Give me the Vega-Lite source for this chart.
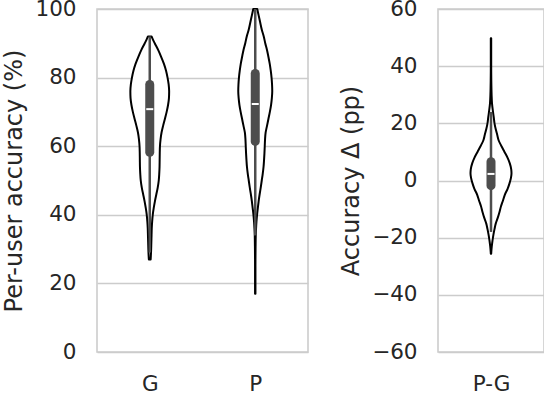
{
  "$schema": "https://vega.github.io/schema/vega-lite/v6.json",
  "background": "white",
  "padding": {"left": 2, "top": -3, "right": 0, "bottom": 0},
  "bounds": "flush",
  "spacing": 130,
  "datasets": {
    "violin": [
      {"group": "G", "value": 92, "density": 0.09},
      {"group": "G", "value": 91, "density": 0.165},
      {"group": "G", "value": 90, "density": 0.25},
      {"group": "G", "value": 88, "density": 0.425},
      {"group": "G", "value": 86, "density": 0.575},
      {"group": "G", "value": 84, "density": 0.71},
      {"group": "G", "value": 82, "density": 0.815},
      {"group": "G", "value": 80, "density": 0.89},
      {"group": "G", "value": 78, "density": 0.945},
      {"group": "G", "value": 76, "density": 0.97},
      {"group": "G", "value": 74, "density": 0.96},
      {"group": "G", "value": 72, "density": 0.915},
      {"group": "G", "value": 70, "density": 0.845},
      {"group": "G", "value": 68, "density": 0.76},
      {"group": "G", "value": 66, "density": 0.67},
      {"group": "G", "value": 64, "density": 0.59},
      {"group": "G", "value": 62, "density": 0.54},
      {"group": "G", "value": 60, "density": 0.51},
      {"group": "G", "value": 58, "density": 0.5},
      {"group": "G", "value": 56, "density": 0.495},
      {"group": "G", "value": 54, "density": 0.49},
      {"group": "G", "value": 52, "density": 0.475},
      {"group": "G", "value": 50, "density": 0.45},
      {"group": "G", "value": 48, "density": 0.4},
      {"group": "G", "value": 46, "density": 0.33},
      {"group": "G", "value": 44, "density": 0.26},
      {"group": "G", "value": 42, "density": 0.2},
      {"group": "G", "value": 40, "density": 0.15},
      {"group": "G", "value": 38, "density": 0.12},
      {"group": "G", "value": 36, "density": 0.1},
      {"group": "G", "value": 34, "density": 0.09},
      {"group": "G", "value": 32, "density": 0.08},
      {"group": "G", "value": 30, "density": 0.07},
      {"group": "G", "value": 28, "density": 0.055},
      {"group": "G", "value": 27, "density": 0.045},
      {"group": "P", "value": 100, "density": 0.1},
      {"group": "P", "value": 98, "density": 0.175},
      {"group": "P", "value": 96, "density": 0.25},
      {"group": "P", "value": 94, "density": 0.325},
      {"group": "P", "value": 92, "density": 0.425},
      {"group": "P", "value": 90, "density": 0.5},
      {"group": "P", "value": 88, "density": 0.59},
      {"group": "P", "value": 86, "density": 0.66},
      {"group": "P", "value": 84, "density": 0.725},
      {"group": "P", "value": 82, "density": 0.775},
      {"group": "P", "value": 80, "density": 0.815},
      {"group": "P", "value": 78, "density": 0.84},
      {"group": "P", "value": 76, "density": 0.85},
      {"group": "P", "value": 74, "density": 0.83},
      {"group": "P", "value": 72, "density": 0.79},
      {"group": "P", "value": 70, "density": 0.73},
      {"group": "P", "value": 68, "density": 0.66},
      {"group": "P", "value": 66, "density": 0.59},
      {"group": "P", "value": 64, "density": 0.52},
      {"group": "P", "value": 62, "density": 0.49},
      {"group": "P", "value": 60, "density": 0.475},
      {"group": "P", "value": 58, "density": 0.46},
      {"group": "P", "value": 56, "density": 0.44},
      {"group": "P", "value": 54, "density": 0.415},
      {"group": "P", "value": 52, "density": 0.375},
      {"group": "P", "value": 50, "density": 0.325},
      {"group": "P", "value": 48, "density": 0.275},
      {"group": "P", "value": 46, "density": 0.22},
      {"group": "P", "value": 44, "density": 0.17},
      {"group": "P", "value": 42, "density": 0.13},
      {"group": "P", "value": 40, "density": 0.09},
      {"group": "P", "value": 38, "density": 0.06},
      {"group": "P", "value": 36, "density": 0.04},
      {"group": "P", "value": 34, "density": 0.025},
      {"group": "P", "value": 30, "density": 0.015},
      {"group": "P", "value": 25, "density": 0.01},
      {"group": "P", "value": 20, "density": 0.01},
      {"group": "P", "value": 17, "density": 0.01},
      {"group": "P-G", "value": 49.8, "density": 0.01},
      {"group": "P-G", "value": 45, "density": 0.01},
      {"group": "P-G", "value": 40, "density": 0.01},
      {"group": "P-G", "value": 35, "density": 0.015},
      {"group": "P-G", "value": 30, "density": 0.03},
      {"group": "P-G", "value": 27, "density": 0.05},
      {"group": "P-G", "value": 24, "density": 0.1},
      {"group": "P-G", "value": 22, "density": 0.14},
      {"group": "P-G", "value": 20, "density": 0.175},
      {"group": "P-G", "value": 18, "density": 0.235},
      {"group": "P-G", "value": 16, "density": 0.31},
      {"group": "P-G", "value": 14, "density": 0.385},
      {"group": "P-G", "value": 12, "density": 0.525},
      {"group": "P-G", "value": 10, "density": 0.675},
      {"group": "P-G", "value": 8, "density": 0.825},
      {"group": "P-G", "value": 6, "density": 0.94},
      {"group": "P-G", "value": 4, "density": 1.01},
      {"group": "P-G", "value": 2.5, "density": 1.025},
      {"group": "P-G", "value": 1, "density": 1.0},
      {"group": "P-G", "value": -1, "density": 0.925},
      {"group": "P-G", "value": -3, "density": 0.825},
      {"group": "P-G", "value": -5, "density": 0.69},
      {"group": "P-G", "value": -7, "density": 0.6},
      {"group": "P-G", "value": -9, "density": 0.5},
      {"group": "P-G", "value": -11, "density": 0.425},
      {"group": "P-G", "value": -13, "density": 0.34},
      {"group": "P-G", "value": -15, "density": 0.24},
      {"group": "P-G", "value": -17, "density": 0.175},
      {"group": "P-G", "value": -19, "density": 0.12},
      {"group": "P-G", "value": -21, "density": 0.075},
      {"group": "P-G", "value": -23, "density": 0.04},
      {"group": "P-G", "value": -25, "density": 0.015},
      {"group": "P-G", "value": -25.6, "density": 0.01}
    ],
    "box": [
      {"group": "G", "lo": 29, "q1": 58.2, "median": 70.8, "q3": 78.0, "hi": 92},
      {"group": "P", "lo": 34, "q1": 61.4, "median": 72.3, "q3": 81.2, "hi": 100},
      {"group": "P-G", "lo": -18, "q1": -1.8, "median": 2.3, "q3": 6.6, "hi": 24}
    ]
  },
  "hconcat": [
    {
      "width": 211,
      "height": 343,
      "layer": [
        {
          "data": {"name": "violin"},
          "transform": [{"filter": "datum.group === 'G'"}],
          "mark": {"type": "area", "orient": "horizontal", "interpolate": "monotone", "fill": "white", "stroke": "black", "strokeWidth": 2, "strokeJoin": "round"},
          "encoding": {
            "y": {"field": "value", "type": "quantitative", "title": "Per-user accuracy (%)", "scale": {"domain": [0, 100], "nice": false}, "axis": {"values": [0, 20, 40, 60, 80, 100]}},
            "x": {"field": "density", "type": "quantitative", "stack": "center", "scale": {"domain": [-0.83375, 4.44125], "nice": false, "zero": false}, "axis": null}
          }
        },
        {
          "data": {"name": "violin"},
          "transform": [{"filter": "datum.group === 'P'"}],
          "mark": {"type": "area", "orient": "horizontal", "interpolate": "monotone", "fill": "white", "stroke": "black", "strokeWidth": 2, "strokeJoin": "round"},
          "encoding": {
            "y": {"field": "value", "type": "quantitative", "title": "Per-user accuracy (%)", "scale": {"domain": [0, 100], "nice": false}, "axis": {"values": [0, 20, 40, 60, 80, 100]}},
            "x": {"field": "density", "type": "quantitative", "stack": "center", "scale": {"domain": [-3.53125, 1.74375], "nice": false, "zero": false}, "axis": null}
          }
        },
        {
          "data": {"name": "box"},
          "transform": [{"filter": "datum.group !== 'P-G'"}],
          "encoding": {
            "x": {"field": "group", "type": "nominal", "title": null, "scale": {"type": "point", "padding": 0.5}}
          },
          "layer": [
            {
              "mark": {"type": "rule", "color": "#4d4d4d", "strokeWidth": 2.5},
              "encoding": {
                "y": {"field": "lo", "type": "quantitative", "title": "Per-user accuracy (%)", "scale": {"domain": [0, 100], "nice": false}, "axis": {"values": [0, 20, 40, 60, 80, 100]}},
                "y2": {"field": "hi"}
              }
            },
            {
              "mark": {"type": "rule", "color": "#4d4d4d", "strokeWidth": 9, "strokeCap": "round"},
              "encoding": {
                "y": {"field": "q1", "type": "quantitative", "title": "Per-user accuracy (%)", "scale": {"domain": [0, 100], "nice": false}, "axis": {"values": [0, 20, 40, 60, 80, 100]}},
                "y2": {"field": "q3"}
              }
            },
            {
              "mark": {"type": "tick", "color": "white", "thickness": 2, "size": 7, "opacity": 1},
              "encoding": {
                "y": {"field": "median", "type": "quantitative", "title": "Per-user accuracy (%)", "scale": {"domain": [0, 100], "nice": false}, "axis": {"values": [0, 20, 40, 60, 80, 100]}}
              }
            }
          ]
        }
      ],
      "resolve": {"scale": {"x": "independent"}}
    },
    {
      "width": 106,
      "height": 343,
      "layer": [
        {
          "data": {"name": "violin"},
          "transform": [{"filter": "datum.group === 'P-G'"}],
          "mark": {"type": "area", "orient": "horizontal", "interpolate": "monotone", "fill": "white", "stroke": "black", "strokeWidth": 2, "strokeJoin": "round"},
          "encoding": {
            "y": {"field": "value", "type": "quantitative", "title": "Accuracy Δ (pp)", "scale": {"domain": [-60, 60], "nice": false}, "axis": {"values": [-60, -40, -20, 0, 20, 40, 60]}},
            "x": {"field": "density", "type": "quantitative", "stack": "center", "scale": {"domain": [-0.8125, 1.8375], "nice": false, "zero": false}, "axis": null}
          }
        },
        {
          "data": {"name": "box"},
          "transform": [{"filter": "datum.group === 'P-G'"}],
          "encoding": {
            "x": {"field": "group", "type": "nominal", "title": null, "scale": {"type": "point", "padding": 0.5}}
          },
          "layer": [
            {
              "mark": {"type": "rule", "color": "#4d4d4d", "strokeWidth": 2.5},
              "encoding": {
                "y": {"field": "lo", "type": "quantitative", "title": "Accuracy Δ (pp)", "scale": {"domain": [-60, 60], "nice": false}, "axis": {"values": [-60, -40, -20, 0, 20, 40, 60]}},
                "y2": {"field": "hi"}
              }
            },
            {
              "mark": {"type": "rule", "color": "#4d4d4d", "strokeWidth": 9, "strokeCap": "round"},
              "encoding": {
                "y": {"field": "q1", "type": "quantitative", "title": "Accuracy Δ (pp)", "scale": {"domain": [-60, 60], "nice": false}, "axis": {"values": [-60, -40, -20, 0, 20, 40, 60]}},
                "y2": {"field": "q3"}
              }
            },
            {
              "mark": {"type": "tick", "color": "white", "thickness": 2, "size": 7, "opacity": 1},
              "encoding": {
                "y": {"field": "median", "type": "quantitative", "title": "Accuracy Δ (pp)", "scale": {"domain": [-60, 60], "nice": false}, "axis": {"values": [-60, -40, -20, 0, 20, 40, 60]}}
              }
            }
          ]
        }
      ],
      "resolve": {"scale": {"x": "independent"}}
    }
  ],
  "config": {
    "font": "DejaVu Sans",
    "view": {"stroke": "#cccccc", "strokeWidth": 1.6},
    "axis": {
      "labelFont": "DejaVu Sans",
      "titleFont": "DejaVu Sans",
      "labelFontSize": 21.5,
      "titleFontSize": 24,
      "labelColor": "#262626",
      "titleColor": "#262626",
      "titleFontWeight": "normal",
      "ticks": false,
      "tickSize": 0,
      "domain": false
    },
    "axisY": {"grid": true, "gridColor": "#cccccc", "gridWidth": 1.6, "labelPadding": 21, "titlePadding": 8},
    "axisX": {"grid": false, "labelPadding": 21, "labelAngle": 0}
  }
}
